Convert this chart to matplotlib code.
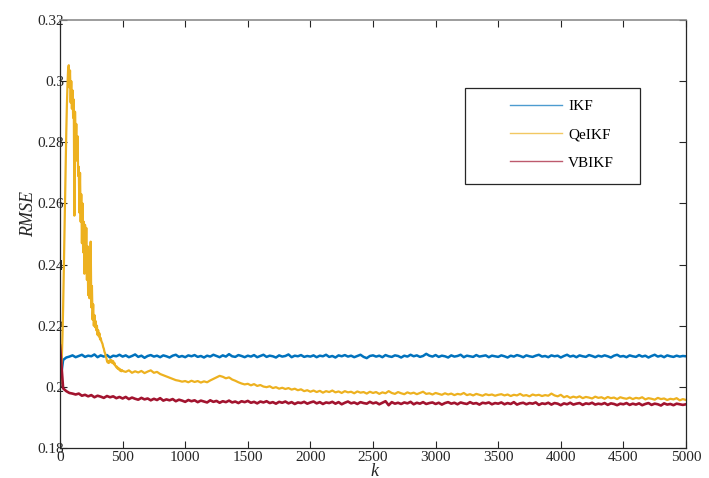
import numpy as np
import matplotlib
matplotlib.use("Agg")
import matplotlib.pyplot as plt
from matplotlib.patches import Rectangle

plt.rcParams['font.family'] = ['Liberation Serif', 'DejaVu Serif']
plt.rcParams['mathtext.fontset'] = 'stix'

# ---------------- data (values in units of 1e-4) ----------------
k_coarse = list(range(0, 5001, 25))          # IKF and VBIKF sample positions

ikf_raw = [
    2010, 2088, 2096, 2099, 2103, 2097, 2101, 2105, 2098, 2102, 2100, 2106, 2097, 2103, 2099, 2104, 2096, 2102, 2100, 2105,
    2099, 2103, 2097, 2101, 2106, 2098, 2102, 2095, 2101, 2104, 2099, 2102, 2097, 2103, 2100, 2096, 2102, 2105, 2098, 2101,
    2097, 2103, 2100, 2104, 2098, 2101, 2096, 2102, 2099, 2105, 2101, 2097, 2103, 2099, 2107, 2100, 2098, 2104, 2101, 2097,
    2102, 2099, 2104, 2097, 2101, 2105, 2098, 2102, 2100, 2096, 2103, 2099, 2101, 2106, 2097, 2102, 2100, 2104, 2098, 2101,
    2099, 2103, 2097, 2102, 2100, 2105, 2098, 2101, 2096, 2103, 2100, 2104, 2099, 2102, 2097, 2101, 2105, 2098, 2094, 2101,
    2103, 2099, 2102, 2097, 2104, 2100, 2098, 2103, 2101, 2096, 2102, 2099, 2105, 2100, 2103, 2098, 2101, 2108, 2102, 2099,
    2104, 2098, 2102, 2100, 2096, 2103, 2099, 2101, 2105, 2097, 2102, 2100, 2098, 2104, 2099, 2101, 2103, 2097, 2102, 2100,
    2098, 2103, 2100, 2096, 2102, 2099, 2104, 2101, 2097, 2103, 2100, 2098, 2102, 2105, 2099, 2101, 2097, 2103, 2100, 2102,
    2096, 2101, 2105, 2099, 2102, 2097, 2103, 2100, 2098, 2104, 2101, 2097, 2102, 2099, 2103, 2100, 2096, 2102, 2105, 2099,
    2101, 2097, 2103, 2100, 2098, 2104, 2099, 2102, 2096, 2101, 2105, 2099, 2102, 2097, 2103, 2100, 2098, 2102, 2099, 2101,
    2100,
]

vbikf_raw = [
    2135, 1995, 1986, 1980, 1978, 1975, 1978, 1971, 1974, 1969, 1973, 1966, 1971, 1968, 1964, 1970, 1966, 1969, 1963, 1967,
    1962, 1967, 1960, 1965, 1961, 1958, 1964, 1959, 1962, 1956, 1961, 1957, 1963, 1955, 1959, 1956, 1960, 1953, 1958, 1955,
    1951, 1957, 1953, 1956, 1950, 1955, 1952, 1949, 1956, 1951, 1954, 1948, 1953, 1950, 1955, 1949, 1952, 1947, 1953, 1950,
    1954, 1948, 1951, 1946, 1952, 1949, 1953, 1947, 1950, 1945, 1951, 1948, 1952, 1946, 1950, 1944, 1949, 1947, 1951, 1945,
    1949, 1952, 1946, 1950, 1944, 1949, 1947, 1951, 1945, 1950, 1943, 1948, 1952, 1946, 1949, 1944, 1950, 1947, 1945, 1951,
    1946, 1949, 1943, 1948, 1953, 1940, 1950, 1945, 1948, 1944, 1949, 1946, 1951, 1943, 1948, 1945, 1950, 1944, 1947, 1949,
    1944, 1948, 1942, 1947, 1950, 1945, 1948, 1943, 1949, 1946, 1944, 1950, 1945, 1947, 1942, 1948, 1946, 1949, 1943, 1947,
    1945, 1949, 1943, 1947, 1944, 1950, 1942, 1946, 1948, 1943, 1947, 1945, 1949, 1941, 1946, 1944, 1948, 1942, 1947, 1945,
    1940, 1946, 1943, 1948, 1942, 1945, 1947, 1941, 1946, 1944, 1948, 1942, 1945, 1943, 1947, 1941, 1946, 1944, 1940, 1945,
    1943, 1947, 1941, 1945, 1942, 1946, 1940, 1944, 1947, 1941, 1945, 1943, 1939, 1946, 1942, 1944, 1940, 1945, 1943, 1941,
    1943,
]

k_qe = list(range(0, 501, 5)) + list(range(525, 5001, 25))
qeikf_raw = [
    # k = 0 .. 500 (step 5)
    2005, 2020, 2050, 2100, 2170, 2260, 2370, 2480, 2600, 2720, 2830, 2920, 2990, 3040, 3052, 2980, 3035, 2930, 3000, 2910,
    2970, 2880, 2940, 2560, 2900, 2780, 2860, 2740, 2820, 2690, 2720, 2570, 2700, 2540, 2630, 2470, 2600, 2440, 2540, 2370,
    2530, 2390, 2520, 2350, 2460, 2300, 2420, 2290, 2380, 2475, 2260, 2330, 2220, 2270, 2200, 2235, 2195, 2215, 2185, 2200,
    2170, 2185, 2165, 2175, 2155, 2160, 2150, 2145, 2140, 2130, 2125, 2115, 2110, 2100, 2095, 2085, 2080, 2083, 2078, 2086,
    2082, 2088, 2080, 2086, 2078, 2084, 2074, 2078, 2070, 2068, 2064, 2066, 2060, 2062, 2057, 2059, 2053, 2056, 2051, 2055,
    2052,
    # k = 525 .. 5000 (step 25)
    2049, 2054, 2046, 2051, 2047, 2052, 2045, 2050, 2054, 2046, 2049, 2042, 2038, 2034, 2030, 2026, 2022, 2020, 2017, 2019,
    2015, 2020, 2016, 2019, 2014, 2018, 2015, 2021, 2026, 2031, 2036, 2033, 2028, 2031, 2024, 2020, 2015, 2011, 2008, 2010,
    2005, 2009, 2003, 2006, 2001, 1999, 2002, 1996, 1999, 1994, 1997, 1993, 1996, 1991, 1994, 1989, 1992, 1986, 1989, 1984,
    1988, 1983, 1987, 1981, 1986, 1983, 1988, 1982, 1985, 1980, 1986, 1982, 1984, 1979, 1985, 1981, 1983, 1978, 1984, 1980,
    1983, 1977, 1982, 1979, 1986, 1980, 1977, 1983, 1979, 1976, 1982, 1978, 1981, 1976, 1980, 1984, 1977, 1979, 1975, 1980,
    1977, 1974, 1979, 1975, 1978, 1973, 1977, 1975, 1980, 1973, 1976, 1972, 1977, 1974, 1971, 1976, 1973, 1975, 1971, 1974,
    1976, 1972, 1975, 1970, 1974, 1972, 1977, 1971, 1973, 1969, 1975, 1972, 1974, 1970, 1973, 1971, 1978, 1972, 1969, 1974,
    1966, 1970, 1964, 1968, 1965, 1969, 1963, 1967, 1965, 1962, 1968, 1964, 1966, 1961, 1967, 1963, 1965, 1960, 1966, 1963,
    1961, 1965, 1960, 1964, 1962, 1966, 1959, 1963, 1961, 1958, 1964, 1960, 1962, 1957, 1961, 1959, 1963, 1956, 1960, 1957,
]

series_names = ['IKF', 'QeIKF', 'VBIKF']
series_colors = ['#0072BD', '#EDB120', '#A2142F']

x_ticks = list(range(0, 5001, 500))
y_ticks = [0.18, 0.20, 0.22, 0.24, 0.26, 0.28, 0.30, 0.32]
y_tick_labels = ['0.18', '0.2', '0.22', '0.24', '0.26', '0.28', '0.3', '0.32']

ikf = np.array(ikf_raw) / 1e4
qeikf = np.array(qeikf_raw) / 1e4
vbikf = np.array(vbikf_raw) / 1e4

# ---------------- figure ----------------
fig = plt.figure(figsize=(7.09, 4.78), dpi=100)
ax = fig.add_axes([60 / 709, 30 / 478, 626 / 709, 428 / 478])

ax.plot(k_coarse, ikf, color=series_colors[0], lw=1.8)
ax.plot(k_qe, qeikf, color=series_colors[1], lw=1.6)
ax.plot(k_coarse, vbikf, color=series_colors[2], lw=1.9)

ax.set_xlim(0, 5000)
ax.set_ylim(0.18, 0.32)
ax.set_xticks(x_ticks)
ax.set_xticklabels([str(t) for t in x_ticks])
ax.set_yticks(y_ticks)
ax.set_yticklabels(y_tick_labels)

ax.tick_params(direction='in', length=5, width=0.8, top=True, right=True,
               labelsize=11, colors='#262626')
ax.tick_params(axis='y', pad=-3)
ax.tick_params(axis='x', pad=2)
for s in ['left', 'right', 'bottom']:
    ax.spines[s].set_color('#262626')
    ax.spines[s].set_linewidth(0.9)
ax.spines['top'].set_color('#8c8c8c')
ax.spines['top'].set_linewidth(1.2)

ax.text((28.5 - 60) / 626, (448 - 214) / 428, 'RMSE', transform=ax.transAxes,
        rotation=90, ha='center', va='center', fontsize=13, style='italic',
        color='#262626')
ax.text((374 - 60) / 626, (448 - 471) / 428, 'k', transform=ax.transAxes,
        ha='center', va='center', fontsize=13, style='italic', color='#262626')

# legend box
bx0, bx1, by0, by1 = 465, 640, 88, 184
ax.add_patch(Rectangle(((bx0 - 60) / 626, (448 - by1) / 428), (bx1 - bx0) / 626,
                       (by1 - by0) / 428, transform=ax.transAxes, fill=True,
                       facecolor='white', edgecolor='#262626', lw=0.9, zorder=5))
handles = [plt.Line2D([], [], color=c, lw=1.0, alpha=0.7) for c in series_colors]
leg = ax.legend(handles, series_names, loc='upper left',
                bbox_to_anchor=((510 - 60) / 626, (448 - 99.5) / 428),
                frameon=False, fontsize=11, borderpad=0, borderaxespad=0,
                handlelength=3.4, handletextpad=0.4, labelspacing=0.95)
leg.set_zorder(6)

fig.savefig('out.png', dpi=100)
